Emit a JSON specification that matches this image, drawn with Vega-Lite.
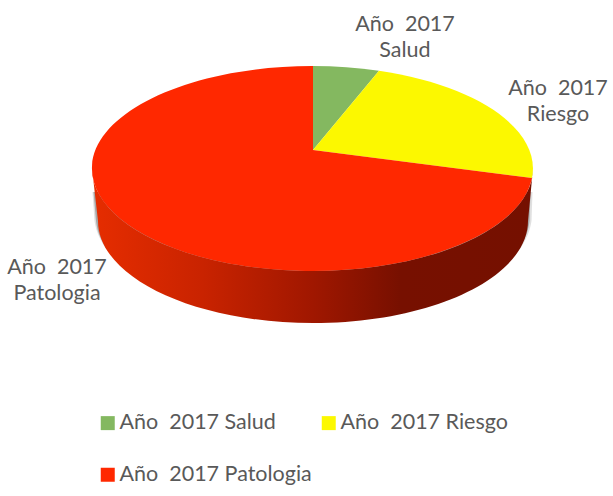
{
"$schema":"https://vega.github.io/schema/vega-lite/v6.json",
"width":613,"height":496,"padding":0,"autosize":{"type":"none"},
"background":"white",
"config":{"view":{"stroke":null}},
"data":{"values":[
{"slice":"Año\u00a0\u00a02017 Salud","value":6,"label":"Año\u00a0\u00a02017\nSalud"},
{"slice":"Año\u00a0\u00a02017 Riesgo","value":22,"label":"Año\u00a0\u00a02017\nRiesgo"},
{"slice":"Año\u00a0\u00a02017 Patologia","value":72,"label":"Año\u00a0\u00a02017\nPatologia"}
]},
"layer":[
{"transform":[{"filter":"datum.value==72"}],
 "mark":{"type":"point","filled":true,"size":4,"fill":"#555555","opacity":0.18,"strokeWidth":0,"shape":"M226,-56 L225,-27 A219,106 0 0 1 -212,-27 L-214,-56 Z"},"encoding":{}},
{"transform":[{"filter":"datum.value==72"}],
 "mark":{"type":"point","filled":true,"size":4,"fill":"#555555","opacity":0.4,"strokeWidth":0,"shape":"M224,-56 L223,-27 A217,104 0 0 1 -210.5,-27 L-213,-56 Z"},"encoding":{}},
{"transform":[{"filter":"datum.value==72"}],
 "mark":{"type":"point","filled":true,"size":4,"strokeWidth":0,"opacity":1,
  "fill":{"gradient":"linear","x1":0,"y1":0,"x2":1,"y2":0,"stops":[
   {"offset":0,"color":"#e62d00"},{"offset":0.25,"color":"#c92300"},{"offset":0.5,"color":"#a01700"},{"offset":0.7,"color":"#771000"},{"offset":1,"color":"#751000"}]},
  "shape":"M226.5,-79.5 L221.5,-27 A215,102 0 0 1 -208.5,-27 L-214.5,-79.5 A220.5,102.5 0 0 0 226.5,-79.5 Z"},"encoding":{}},
{"mark":{"type":"point","filled":true,"size":4,"strokeWidth":0,"opacity":1},
 "encoding":{
  "shape":{"field":"label","type":"nominal","legend":null,"scale":{"domain":["Año\u00a0\u00a02017\nSalud","Año\u00a0\u00a02017\nRiesgo","Año\u00a0\u00a02017\nPatologia"],"range":[
    "M6.5,-98 L6.5,-182 A220.5,102.5 0 0 1 72.5,-177.2 Z",
    "M6.5,-98 L72.5,-177.2 A220.5,102.5 0 0 1 225.5,-70 Z",
    "M6.5,-98 L225.5,-70 A220.5,102.5 0 1 1 6.5,-182 Z"]}},
  "fill":{"field":"slice","type":"nominal",
   "scale":{"domain":["Año\u00a0\u00a02017 Salud","Año\u00a0\u00a02017 Patologia","Año\u00a0\u00a02017 Riesgo"],"range":["#84b860","#ff2800","#fcf800"]},
   "legend":{"title":null,"orient":"none","legendX":97,"legendY":412,"columns":2,"symbolType":"square","symbolSize":196,"symbolStrokeWidth":0,"symbolOpacity":1,"labelFont":"Lato","labelFontSize":21.5,"labelColor":"#595959","labelOffset":1,"columnPadding":6,"rowPadding":29,"labelLimit":300}}
 }},
{"mark":{"type":"text","font":"Lato","fontSize":21.5,"color":"#595959","align":"center","baseline":"middle","lineBreak":"\n","lineHeight":26},
 "encoding":{
  "text":{"field":"label"},
  "x":{"field":"value","type":"quantitative","axis":null,"scale":{"domain":[6,22,72],"range":[405,558,57]}},
  "y":{"field":"value","type":"quantitative","axis":null,"scale":{"domain":[6,22,72],"range":[25,89,268]}}
 }}
]}
